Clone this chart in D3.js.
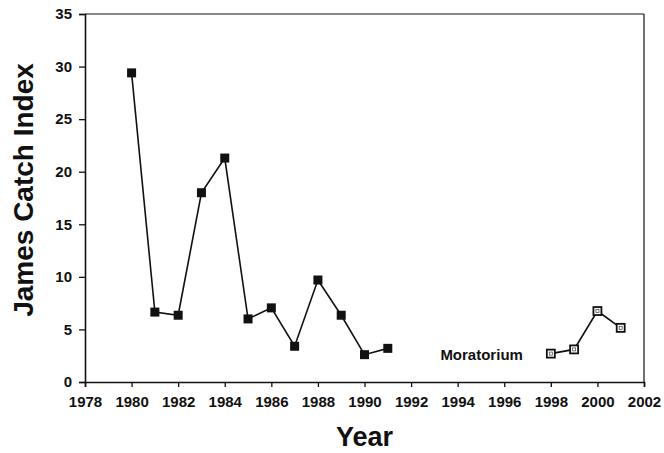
<!DOCTYPE html>
<html>
<head>
<meta charset="utf-8">
<script src="https://cdn.jsdelivr.net/npm/d3@7"></script>
<style>
  body { margin: 0; background: #fff; }
  text { font-family: "Liberation Sans", Arial, sans-serif; font-weight: bold; fill: #111; }
</style>
</head>
<body>
<div id="chart"></div>
<script>
// data
let years1 = [1980, 1981, 1982, 1983, 1984, 1985, 1986, 1987, 1988, 1989, 1990, 1991];
let catch1 = [29.4, 6.65, 6.35, 18.0, 21.3, 6.0, 7.05, 3.4, 9.7, 6.35, 2.6, 3.2];
let years2 = [1998, 1999, 2000, 2001];
let catch2 = [2.7, 3.1, 6.75, 5.15];
let xTicks = d3.range(1978, 2003, 2);
let yTicks = [0, 5, 10, 15, 20, 25, 30, 35];

let margin = {top: 14, right: 20, bottom: 71, left: 85};
let width = 664 - margin.left - margin.right;
let height = 453 - margin.top - margin.bottom;

let svg = d3.select("#chart").append("svg")
    .attr("width", 664)
    .attr("height", 453)
    .append("g")
    .attr("transform", "translate(" + margin.left + "," + margin.top + ")");

let x = d3.scaleLinear().domain([1978, 2002]).range([0, width]);
let y = d3.scaleLinear().domain([0, 35]).range([height, 0]);

// frame on top and right
svg.append("line").attr("x1", 0).attr("x2", width).attr("y1", 0).attr("y2", 0)
    .attr("stroke", "#111").attr("stroke-width", 1.2);
svg.append("line").attr("x1", width).attr("x2", width).attr("y1", 0).attr("y2", height)
    .attr("stroke", "#111").attr("stroke-width", 1.2);

let xAxis = svg.append("g")
    .attr("transform", "translate(0," + height + ")")
    .call(d3.axisBottom(x).tickValues(xTicks).tickFormat(d3.format("d")).tickSize(5).tickPadding(9));
let yAxis = svg.append("g")
    .call(d3.axisLeft(y).tickValues(yTicks).tickSize(6).tickPadding(7));

[xAxis, yAxis].forEach(g => {
    g.select(".domain").attr("stroke", "#111").attr("stroke-width", 1.6);
    g.selectAll(".tick line").attr("stroke", "#111").attr("stroke-width", 1.3);
    g.selectAll("text").attr("font-size", 15).attr("font-family", null).attr("fill", "#111");
});

let line = d3.line().x(d => x(d[0])).y(d => y(d[1]));
let pts1 = years1.map((d, i) => [d, catch1[i]]);
let pts2 = years2.map((d, i) => [d, catch2[i]]);

svg.append("path").datum(pts1).attr("d", line)
    .attr("fill", "none").attr("stroke", "#111").attr("stroke-width", 1.6);
svg.append("path").datum(pts2).attr("d", line)
    .attr("fill", "none").attr("stroke", "#111").attr("stroke-width", 1.6);

// filled markers
svg.selectAll(".m1").data(pts1).enter().append("rect")
    .attr("class", "m1")
    .attr("x", d => x(d[0]) - 4.5).attr("y", d => y(d[1]) - 4.5)
    .attr("width", 9).attr("height", 9)
    .attr("fill", "#111");

// open markers
svg.selectAll(".m2").data(pts2).enter().append("rect")
    .attr("class", "m2")
    .attr("x", d => x(d[0]) - 4).attr("y", d => y(d[1]) - 4)
    .attr("width", 8).attr("height", 8)
    .attr("fill", "#fff").attr("stroke", "#111").attr("stroke-width", 1.8);
svg.selectAll(".m2in").data(pts2).enter().append("rect")
    .attr("class", "m2in")
    .attr("x", d => x(d[0]) - 1.5).attr("y", d => y(d[1]) - 1.5)
    .attr("width", 3).attr("height", 3)
    .attr("fill", "none").attr("stroke", "#555").attr("stroke-width", 0.8);

svg.append("text")
    .attr("x", x(1996.8)).attr("y", y(2.7) + 6)
    .attr("text-anchor", "end")
    .attr("font-size", 15)
    .text("Moratorium");

// axis titles
svg.append("text")
    .attr("x", width / 2).attr("y", height + 64)
    .attr("text-anchor", "middle")
    .attr("font-size", 27)
    .text("Year");

svg.append("text")
    .attr("transform", "translate(" + (-52) + "," + (height / 2 - 8) + ") rotate(-90)")
    .attr("text-anchor", "middle")
    .attr("font-size", 28)
    .text("James Catch Index");
</script>
</body>
</html>
